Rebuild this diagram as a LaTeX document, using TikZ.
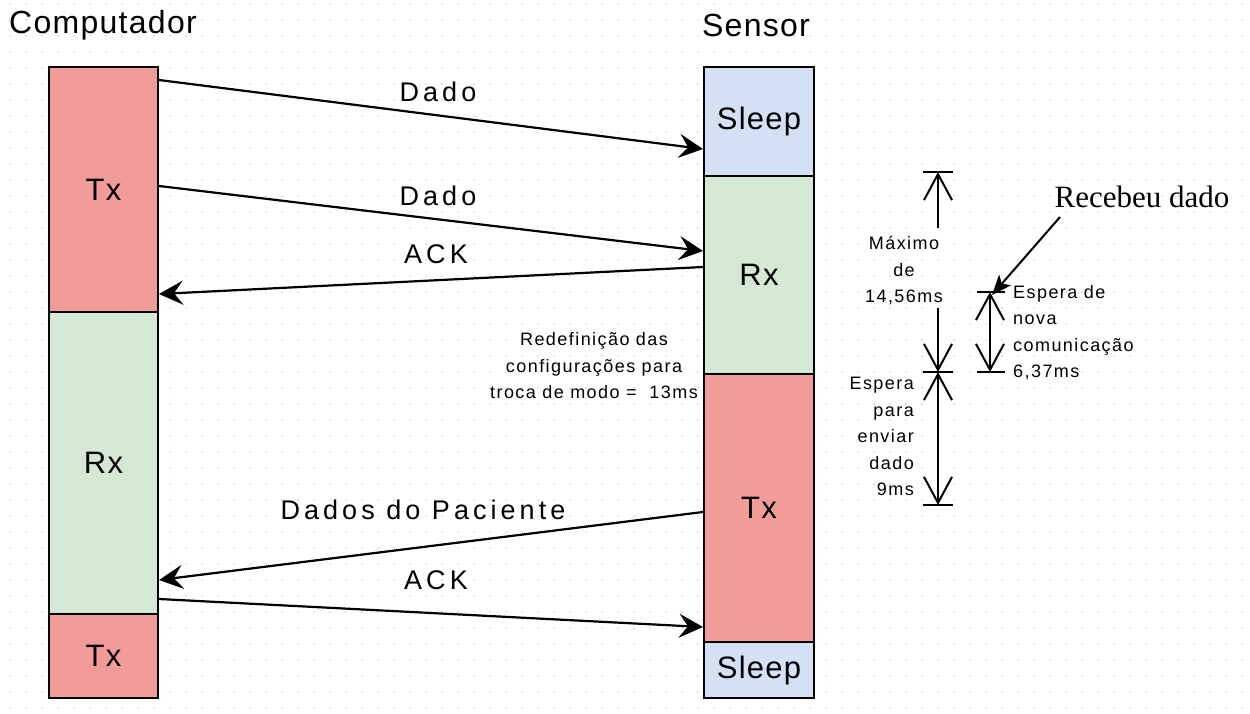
\documentclass[tikz,border=0pt]{standalone}
\usepackage{fontspec}
\setmainfont{Liberation Sans}
\newfontfamily\lbig[LetterSpace=4]{Liberation Sans}
\newfontfamily\lmid[LetterSpace=15]{Liberation Sans}
\newfontfamily\lsml[LetterSpace=8]{Liberation Sans}
\newfontfamily\tms{Liberation Serif}
\usetikzlibrary{arrows.meta,calc}
\definecolor{redf}{HTML}{F19C99}
\definecolor{greenf}{HTML}{D5E8D4}
\definecolor{bluef}{HTML}{D4E1F5}
\definecolor{griddot}{HTML}{CCCCCC}
\tikzset{
  box/.style={draw=black, line width=2pt, anchor=north west, inner sep=0pt,
    font=\lbig\fontsize{31}{36}\selectfont},
  title/.style={font=\lbig\fontsize{32}{36}\selectfont, inner sep=0pt},
  lbl/.style={font=\lmid\fontsize{27}{30}\selectfont, inner sep=0pt},
  small/.style={font=\lsml\fontsize{18}{26.5}\selectfont, inner sep=0pt},
  arr/.style={line width=2.2pt, -{Stealth[length=24pt,width=24pt,inset=9pt]}},
  dim/.style={line width=2pt},
  barb/.style={-{Straight Barb[length=26pt,width=28pt,line width=2pt]}},
  barbs/.style={{Straight Barb[length=26pt,width=28pt,line width=2pt]}-{Straight Barb[length=26pt,width=28pt,line width=2pt]}},
  tick/.style={line width=2pt},
  recarr/.style={line width=2pt, -{Stealth[length=20pt,width=16pt,inset=5pt]}}
}
\begin{document}
\begin{tikzpicture}[x=1pt,y=-1pt]
\useasboundingbox (0,0) rectangle (1250,714);
\fill[white] (0,0) rectangle (1250,714);
% dot grid
\foreach \gx in {10,26,...,1250}{
  \foreach \gy in {4,20,...,714}{
    \fill[griddot] (\gx,\gy) circle (0.9);
  }
}
% titles
\node[title] (tcomp) at (103,25) {Computador};
\node[title] (tsens) at (756,25) {Sensor};
% computer column
\node[box, fill=redf, minimum width=109pt, minimum height=245pt] (ctx1) at (48,66) {Tx};
\node[box, fill=greenf, minimum width=109pt, minimum height=302pt] (crx) at (48,311) {Rx};
\node[box, fill=redf, minimum width=109pt, minimum height=84pt] (ctx2) at (48,613) {Tx};
% sensor column
\node[box, fill=bluef, minimum width=110pt, minimum height=109pt] (ss1) at (703,66) {Sleep};
\node[box, fill=greenf, minimum width=110pt, minimum height=198pt] (srx) at (703,175) {Rx};
\node[box, fill=redf, minimum width=110pt, minimum height=268pt] (stx) at (703,373) {Tx};
\node[box, fill=bluef, minimum width=110pt, minimum height=56pt] (ss2) at (703,641) {Sleep};
% messages
\draw[arr] ([yshift=-14pt]ctx1.north east) -- ([yshift=-27.5pt]ss1.west);
\draw[arr] ([yshift=3.5pt]ctx1.east) -- ([yshift=24pt]srx.west);
\draw[arr] ([yshift=8pt]srx.west) -- ([yshift=19pt]ctx1.south east);
\draw[arr] ([yshift=-4pt]stx.west) -- ([yshift=35pt]crx.south east);
\draw[arr] ([yshift=16pt]crx.south east) -- ([yshift=16pt]stx.south west);
\node[lbl] (l1) at (438,92) {Dado};
\node[lbl] (l2) at (438,196) {Dado};
\node[lbl] (l3) at (436,254) {ACK};
\node[lbl] (l4) at (423,510) {Dados do Paciente};
\node[lbl] (l5) at (436,580) {ACK};
% middle note
\node[small, align=center] (note) at (594,366) {Redefinição das\\configurações para\\troca de modo =~~13ms};
% dimension lines
\coordinate (m1) at (938,172);
\coordinate (m2) at (938,372);
\coordinate (m3) at (938,505);
\coordinate (g1) at (938,228);
\coordinate (g2) at (938,308);
\coordinate (n1) at (990,292);
\coordinate (n2) at (990,372);
\draw[tick] ([xshift=-15pt]m1) -- ([xshift=15pt]m1);
\draw[tick] ([xshift=-15pt]m2) -- ([xshift=15pt]m2);
\draw[tick] ([xshift=-15pt]m3) -- ([xshift=15pt]m3);
\draw[tick] ([xshift=-13pt]n1) -- ([xshift=15pt]n1);
\draw[tick] ([xshift=-13pt]n2) -- ([xshift=15pt]n2);
\draw[dim, barb] (g1) -- (m1);
\draw[dim, barb] (g2) -- (m2);
\draw[dim, barbs] (m2) -- (m3);
\draw[dim, barbs] (n1) -- (n2);
\node[small, align=center] (dmax) at (904,271) {Máximo\\de\\14,56ms};
\node[small, align=right, anchor=east] (desp) at (914,436.5) {Espera\\para\\enviar\\dado\\9ms};
\node[small, align=left, anchor=west] (dnova) at (1013,332.5) {Espera de\\nova\\comunicação\\6,37ms};
% annotation
\node[font=\tms\fontsize{31}{34}\selectfont, inner sep=0pt] (rec) at (1142,197) {Recebeu dado};
\coordinate (rs) at (1060,217);
\draw[recarr] (rs) -- ([shift={(2pt,-3pt)}]n1);
\end{tikzpicture}
\end{document}
